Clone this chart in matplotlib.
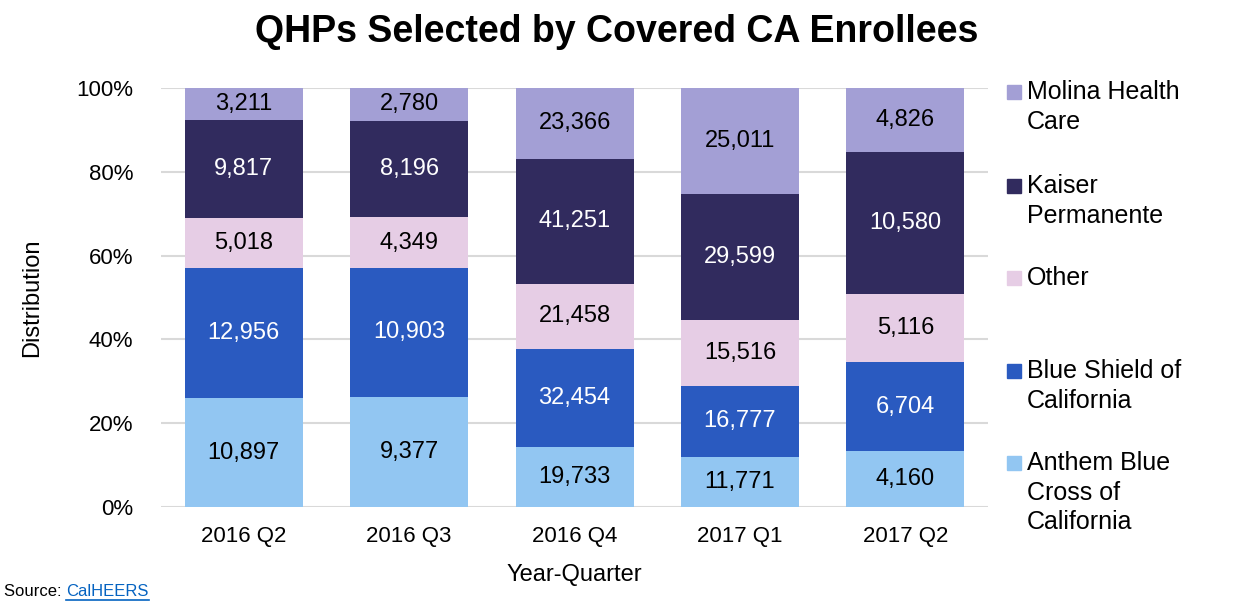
import matplotlib.pyplot as plt
import matplotlib.patches as mpatches
import numpy as np

plt.rcParams['font.family'] = ['Liberation Sans', 'DejaVu Sans']

quarters = ['2016 Q2', '2016 Q3', '2016 Q4', '2017 Q1', '2017 Q2']
plans = ['Anthem Blue\nCross of\nCalifornia', 'Blue Shield of\nCalifornia', 'Other',
         'Kaiser\nPermanente', 'Molina Health\nCare']
anthem = [10897, 9377, 19733, 11771, 4160]
blue_shield = [12956, 10903, 32454, 16777, 6704]
other = [5018, 4349, 21458, 15516, 5116]
kaiser = [9817, 8196, 41251, 29599, 10580]
molina = [3211, 2780, 23366, 25011, 4826]

colors = ['#92C6F2', '#2A5AC0', '#E6CDE5', '#312B5E', '#A39FD5']
text_colors = ['black', 'white', 'black', 'white', 'black']

series = np.array([anthem, blue_shield, other, kaiser, molina], dtype=float)
share = series / series.sum(axis=0) * 100

fig = plt.figure(figsize=(12.54, 6.11), dpi=100)
ax = fig.add_axes([0.1284, 0.1702, 0.6596, 0.6858])

x = np.arange(len(quarters))
bottom = np.zeros(len(quarters))
for i in range(len(plans)):
    ax.bar(x, share[i], 0.713, bottom=bottom, color=colors[i], zorder=2)
    for j in range(len(quarters)):
        ax.text(x[j], bottom[j] + share[i][j] / 2, f'{int(series[i][j]):,}',
                ha='center', va='center', fontsize=17, color=text_colors[i], zorder=3)
    bottom += share[i]

ax.set_xlim(-0.5, 4.5)
ax.set_ylim(0, 100)
ax.set_yticks(range(0, 101, 20))
ax.set_yticklabels([f'{v}%' for v in range(0, 101, 20)], fontsize=16)
ax.set_xticks(x)
ax.set_xticklabels(quarters, fontsize=16)
ax.tick_params(axis='y', length=0, pad=20)
ax.tick_params(axis='x', length=0, pad=14)
ax.yaxis.grid(True, color='#D9D9D9', linewidth=1.5, zorder=0)
for s in ax.spines.values():
    s.set_visible(False)
ax.set_ylabel('Distribution', fontsize=17, labelpad=24)
ax.set_xlabel('Year-Quarter', fontsize=17, labelpad=12)

fig.text(0.492, 0.947, 'QHPs Selected by Covered CA Enrollees', ha='center', va='center',
         fontsize=27, fontweight='bold')

# source line with a link-styled name
src = fig.text(4 / 1254, 1 - 591 / 611, 'Source: ', fontsize=12, va='center', ha='left')
fig.canvas.draw()
r = fig.canvas.get_renderer()
bb = src.get_window_extent(r)
link = fig.text(bb.x1 / 1254, 1 - 591 / 611, 'CalHEERS', fontsize=12, va='center',
                ha='left', color='#0563C1')
lb = link.get_window_extent(r)
fig.add_artist(plt.Line2D([lb.x0 / 1254, lb.x1 / 1254], [1 - 600 / 611, 1 - 600 / 611],
                          color='#0563C1', linewidth=1.2))

# legend, top entry first
legend_y = [92, 186, 278, 371, 463]
for k, i in enumerate(range(len(plans) - 1, -1, -1)):
    yc = legend_y[k]
    fig.add_artist(mpatches.Rectangle((1007 / 1254, 1 - (yc + 7) / 611), 14 / 1254, 14 / 611,
                                      color=colors[i], transform=fig.transFigure))
    fig.text(1027 / 1254, 1 - (yc - 12) / 611, plans[i], fontsize=18, va='top', ha='left',
             linespacing=1.3)

fig.savefig('out.png', dpi=100)
